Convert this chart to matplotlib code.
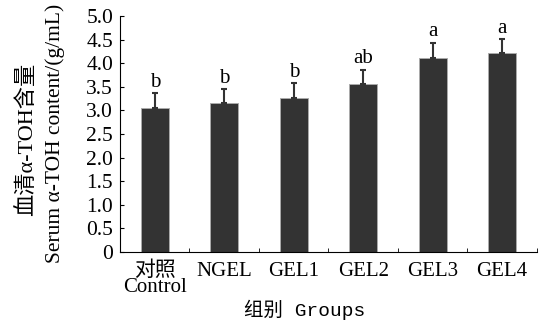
import numpy as np
from matplotlib import pyplot as plt

plt.rcParams['font.family'] = ['Liberation Serif', 'Noto Sans CJK SC']

groups = ['对照\nControl', 'NGEL', 'GEL1', 'GEL2', 'GEL3', 'GEL4']
means = [3.05, 3.16, 3.26, 3.56, 4.12, 4.21]
errors = [0.32, 0.29, 0.32, 0.30, 0.31, 0.30]
letters = ['b', 'b', 'b', 'ab', 'a', 'a']

W, H = 549, 325
fig = plt.figure(figsize=(W / 100, H / 100), dpi=100)
ax = fig.add_axes([0.2186, 0.2246, 0.7594, 0.7262])

x = np.arange(len(groups))
ax.bar(x, means, width=0.4, color='#333333', edgecolor='#aaaaaa', linewidth=0.7,
       yerr=[np.zeros(len(errors)), errors], ecolor='#333333',
       error_kw=dict(elinewidth=1.5, capsize=2.5, capthick=1.5))

for xi, m, e, lab in zip(x, means, errors, letters):
    ax.text(xi, m + e + 0.03, lab, ha='center', va='bottom', fontsize=15)

ax.set_xlim(-0.5, len(groups) - 0.5)
ax.set_ylim(0, 5.0)
ax.set_yticks(np.arange(0, 5.01, 0.5))
ax.set_yticklabels(['0'] + ['%.1f' % v for v in np.arange(0.5, 5.01, 0.5)], fontsize=15.5)

# category labels in the middle, tick marks between the groups
ax.set_xticks(x)
ax.set_xticklabels(groups, fontsize=15, linespacing=0.8)
ax.tick_params(axis='x', length=0, pad=7)
ax.set_xticks(np.arange(0.5, len(groups)), minor=True)
ax.tick_params(axis='x', which='minor', direction='in', length=3)
ax.tick_params(axis='y', direction='in', length=3, pad=5)

ax.spines['top'].set_visible(False)
ax.spines['right'].set_visible(False)

# two-line y label, placed line by line
fig.text(27 / W, 1 - 139 / H, '血清α-TOH含量', rotation=90, ha='center', va='center', fontsize=16)
fig.text(55 / W, 1 - 133 / H, 'Serum α-TOH content/(g/mL)', rotation=90, ha='center', va='center',
         fontsize=15.5)
fig.text(305 / W, 1 - 310 / H, '组别 Groups', ha='center', va='center', fontsize=14,
         family=['Liberation Mono', 'Noto Sans CJK SC'])

fig.savefig('out.png', dpi=100)
